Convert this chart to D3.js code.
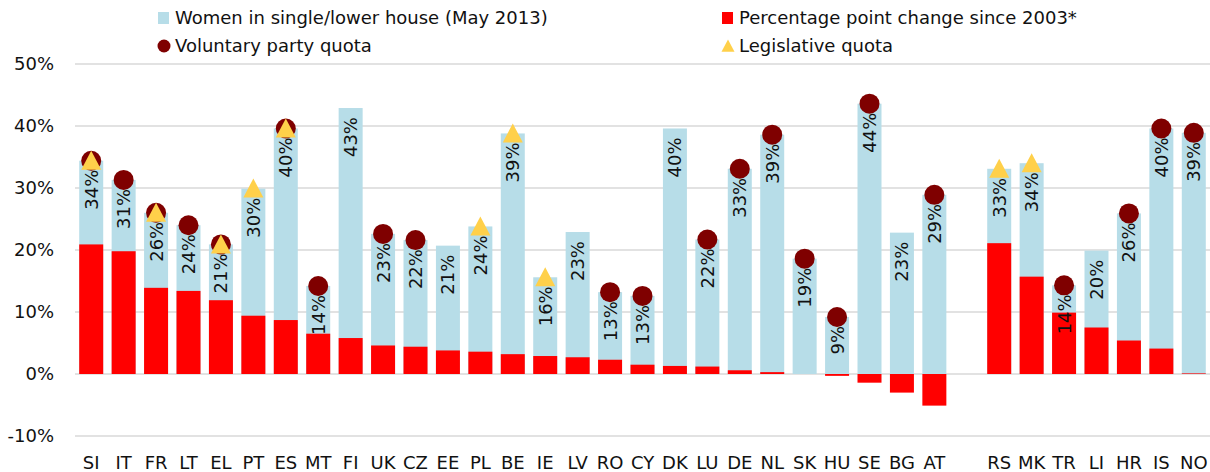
<!DOCTYPE html>
<html>
<head>
<meta charset="utf-8">
<script src="https://cdn.jsdelivr.net/npm/d3@7"></script>
<style>
  body { margin: 0; background: #fff; }
  text { font-family: "DejaVu Sans", sans-serif; fill: #111; }
</style>
</head>
<body>
<svg id="chart"></svg>
<script>
// country codes, "" is the gap between EU and candidate countries
const categories = ["SI","IT","FR","LT","EL","PT","ES","MT","FI","UK","CZ","EE","PL","BE","IE","LV","RO","CY","DK","LU","DE","NL","SK","HU","SE","BG","AT","","RS","MK","TR","LI","HR","IS","NO"];

// women in single/lower house, May 2013 (%)
const women = [34.4,31.3,26.0,24.0,20.9,29.9,39.6,14.2,42.9,22.6,21.6,20.7,23.8,38.8,15.6,22.9,13.2,12.6,39.6,21.7,33.1,38.6,18.6,9.2,43.6,22.8,28.9,null,33.1,34.0,14.3,19.9,25.9,39.6,38.9];

// percentage point change since 2003
const change = [20.9,19.8,13.9,13.4,11.9,9.4,8.7,6.5,5.8,4.6,4.4,3.8,3.6,3.2,2.9,2.7,2.3,1.5,1.3,1.2,0.6,0.3,0,-0.3,-1.4,-3.0,-5.1,null,21.1,15.7,9.9,7.5,5.4,4.1,0.1];

const voluntaryQuota = ["SI","IT","FR","LT","EL","ES","MT","UK","CZ","RO","CY","LU","DE","NL","SK","HU","SE","AT","TR","HR","IS","NO"];
const legislativeQuota = ["SI","FR","EL","PT","ES","PL","BE","IE","RS","MK"];

const yTicks = [-10, 0, 10, 20, 30, 40, 50];

const legendItems = [
  {label: "Women in single/lower house (May 2013)", type: "square", color: "#b7dde8", x: 158, y: 18},
  {label: "Percentage point change since 2003*", type: "square", color: "#ff0000", x: 722, y: 18},
  {label: "Voluntary party quota", type: "circle", color: "#7f0000", x: 158, y: 46},
  {label: "Legislative quota", type: "triangle", color: "#ffd04a", x: 722, y: 46}
];

const width = 1210, height = 472;
const margin = {left: 75, right: 0, top: 64, bottom: 36};

const svg = d3.select("#chart")
    .attr("width", width)
    .attr("height", height);

const keys = categories.map((d, i) => d === "" ? "gap" + i : d);
const rows = categories.map((d, i) => ({
  key: keys[i], code: d, women: women[i], change: change[i],
  voluntary: voluntaryQuota.includes(d), legislative: legislativeQuota.includes(d)
})).filter(d => d.code !== "");

const x = d3.scaleBand()
    .domain(keys)
    .range([margin.left, width - margin.right])
    .paddingInner(0.26)
    .paddingOuter(0.13);

const y = d3.scaleLinear()
    .domain([-10, 50])
    .range([height - margin.bottom, margin.top]);

// gridlines
svg.append("g")
  .selectAll("line")
  .data(yTicks)
  .join("line")
    .attr("x1", margin.left)
    .attr("x2", width - margin.right)
    .attr("y1", d => y(d))
    .attr("y2", d => y(d))
    .attr("stroke", "#d9d9d9")
    .attr("stroke-width", 1.5);

// y axis labels
svg.append("g")
  .selectAll("text")
  .data(yTicks)
  .join("text")
    .attr("x", 54)
    .attr("y", d => y(d))
    .attr("dy", "0.36em")
    .attr("text-anchor", "end")
    .attr("font-size", 18)
    .text(d => d + "%");

// x axis labels
svg.append("g")
  .selectAll("text")
  .data(rows)
  .join("text")
    .attr("x", d => x(d.key) + x.bandwidth() / 2)
    .attr("y", 469)
    .attr("text-anchor", "middle")
    .attr("font-size", 18)
    .text(d => d.code);

// light blue bars
svg.append("g")
  .selectAll("rect")
  .data(rows)
  .join("rect")
    .attr("x", d => x(d.key))
    .attr("width", x.bandwidth())
    .attr("y", d => y(d.women))
    .attr("height", d => y(0) - y(d.women))
    .attr("fill", "#b7dde8");

// red bars
svg.append("g")
  .selectAll("rect")
  .data(rows)
  .join("rect")
    .attr("x", d => x(d.key))
    .attr("width", x.bandwidth())
    .attr("y", d => y(Math.max(0, d.change)))
    .attr("height", d => Math.abs(y(0) - y(d.change)))
    .attr("fill", "#ff0000");

// value labels, rotated inside top of bars
svg.append("g")
  .selectAll("text")
  .data(rows)
  .join("text")
    .attr("transform", d => `translate(${x(d.key) + x.bandwidth() / 2},${y(d.women) + 9}) rotate(-90)`)
    .attr("dy", "0.36em")
    .attr("text-anchor", "end")
    .attr("font-size", 18)
    .text(d => d3.format(".0f")(d.women) + "%");

// voluntary party quota
svg.append("g")
  .selectAll("circle")
  .data(rows.filter(d => d.voluntary))
  .join("circle")
    .attr("cx", d => x(d.key) + x.bandwidth() / 2)
    .attr("cy", d => y(d.women))
    .attr("r", 10)
    .attr("fill", "#7f0000");

// legislative quota
const tri = (cx, cy, s) => `M${cx - s},${cy + s * 0.9}L${cx + s},${cy + s * 0.9}L${cx},${cy - s}Z`;

svg.append("g")
  .selectAll("path")
  .data(rows.filter(d => d.legislative))
  .join("path")
    .attr("d", d => tri(x(d.key) + x.bandwidth() / 2, y(d.women), 10))
    .attr("fill", "#ffd04a");

// legend
const legend = svg.append("g")
  .selectAll("g")
  .data(legendItems)
  .join("g")
    .attr("transform", d => `translate(${d.x},${d.y})`);

legend.filter(d => d.type === "square").append("rect")
    .attr("x", 0).attr("y", -6).attr("width", 11).attr("height", 12)
    .attr("fill", d => d.color);

legend.filter(d => d.type === "circle").append("circle")
    .attr("cx", 6).attr("cy", 0).attr("r", 6.5)
    .attr("fill", d => d.color);

legend.filter(d => d.type === "triangle").append("path")
    .attr("d", tri(6, 0, 6.5))
    .attr("fill", d => d.color);

legend.append("text")
    .attr("x", 17)
    .attr("y", 0)
    .attr("dy", "0.36em")
    .attr("font-size", 18)
    .text(d => d.label);
</script>
</body>
</html>
